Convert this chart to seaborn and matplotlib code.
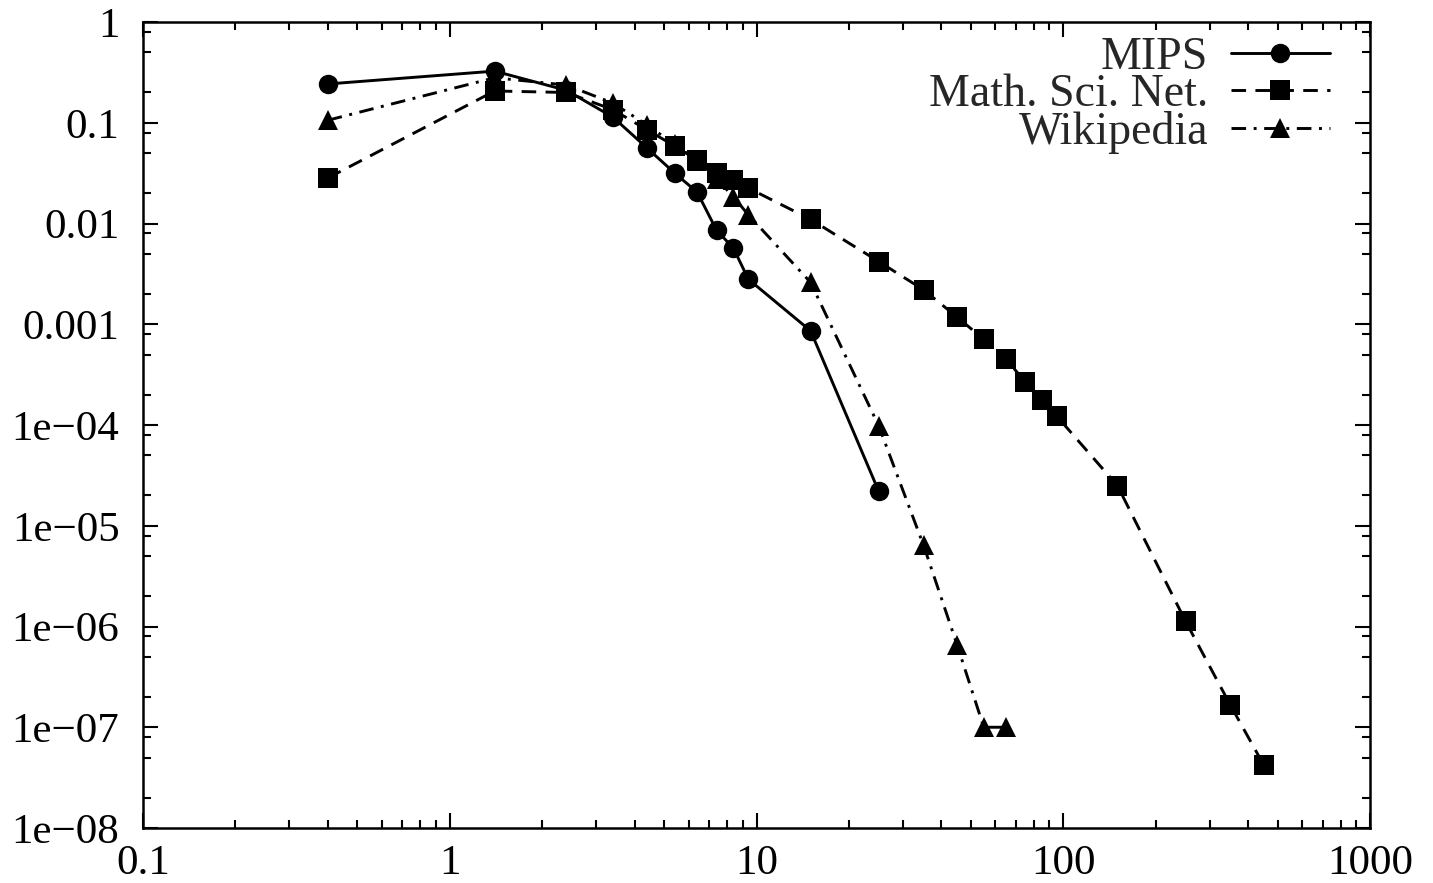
import numpy as np
import pandas as pd
import matplotlib
matplotlib.use("Agg")
import matplotlib.pyplot as plt
import matplotlib.ticker as mticker
import seaborn as sns

# data
mips_x = [0.4, 1.4, 2.4, 3.4, 4.4, 5.4, 6.4, 7.4, 8.4, 9.4, 15, 25]
mips_y = [0.243, 0.326, 0.21, 0.114, 0.056, 0.0318, 0.0205, 0.0086, 0.0057, 0.0028,
          0.00086, 2.2e-5]

msn_x = [0.4, 1.4, 2.4, 3.4, 4.4, 5.4, 6.4, 7.4, 8.4, 9.4, 15, 25, 35, 45, 55, 65,
         75, 85, 95, 150, 250, 350, 450]
msn_y = [0.0283, 0.207, 0.20, 0.135, 0.085, 0.059, 0.0427, 0.0317, 0.027, 0.0225,
         0.011, 0.0042, 0.0022, 0.00118, 0.00071, 0.00045, 0.00027, 0.000177,
         0.000123, 2.5e-5, 1.13e-6, 1.66e-7, 4.2e-8]

wiki_x = [0.4, 1.4, 2.4, 3.4, 4.4, 5.4, 6.4, 7.4, 8.4, 9.4, 15, 25, 35, 45, 55, 65]
wiki_y = [0.106, 0.28, 0.237, 0.157, 0.095, 0.061, 0.042, 0.028, 0.0184, 0.0122,
          0.0026, 9.8e-5, 6.4e-6, 6.6e-7, 1e-7, 1e-7]

x_ticks = [0.1, 1, 10, 100, 1000]
x_labels = ["0.1", "1", "10", "100", "1000"]
y_ticks = [1e-8, 1e-7, 1e-6, 1e-5, 1e-4, 1e-3, 1e-2, 1e-1, 1]
y_labels = ["1e\u221208", "1e\u221207", "1e\u221206", "1e\u221205", "1e\u221204",
            "0.001", "0.01", "0.1", "1"]

sns.set_theme(style="ticks")
plt.rcParams["font.family"] = ["Liberation Serif", "DejaVu Serif"]
plt.rcParams["font.size"] = 31

fig = plt.figure(figsize=(14.33, 8.83), dpi=100)
ax = fig.add_axes([0.0998, 0.0623, 0.8564, 0.9127])

series = [
    ("MIPS", mips_x, mips_y, "o", "-"),
    ("Math. Sci. Net.", msn_x, msn_y, "s", (0, (5, 3.2))),
    ("Wikipedia", wiki_x, wiki_y, "^", (0, (5, 2.6, 1, 2.6))),
]
for name, xs, ys, mk, ls in series:
    d = pd.DataFrame({"x": xs, "y": ys})
    sns.lineplot(data=d, x="x", y="y", ax=ax, color="black", marker=mk,
                 linestyle=ls, linewidth=2.1, markersize=14, markeredgewidth=0,
                 label=name, sort=False, estimator=None)

ax.set_xscale("log")
ax.set_yscale("log")
ax.set_xlim(0.1, 1000)
ax.set_ylim(1e-8, 1)
ax.set_xlabel("")
ax.set_ylabel("")

ax.xaxis.set_major_locator(mticker.FixedLocator(x_ticks))
ax.xaxis.set_major_formatter(mticker.FixedFormatter(x_labels))
ax.xaxis.set_minor_locator(mticker.LogLocator(base=10, subs=np.arange(2, 10), numticks=20))
ax.xaxis.set_minor_formatter(mticker.NullFormatter())
ax.yaxis.set_major_locator(mticker.FixedLocator(y_ticks))
ax.yaxis.set_major_formatter(mticker.FixedFormatter(y_labels))
ax.yaxis.set_minor_locator(mticker.LogLocator(base=10, subs=(2, 5, 8), numticks=20))
ax.yaxis.set_minor_formatter(mticker.NullFormatter())

ax.tick_params(which="both", direction="in", top=True, right=True, colors="black",
               width=1.5, labelsize=31)
ax.tick_params(which="major", length=11)
ax.tick_params(which="minor", length=6)
ax.tick_params(axis="y", which="major", pad=17)
ax.tick_params(axis="x", which="major", pad=12)
for s in ax.spines.values():
    s.set_visible(True)
    s.set_linewidth(1.8)
    s.set_color("black")

leg = ax.legend(loc="upper right", bbox_to_anchor=(0.967, 0.982), frameon=False,
                markerfirst=False, fontsize=33, handlelength=2.15, handletextpad=0.5,
                labelspacing=-0.12, borderaxespad=0, borderpad=0)
for t in leg.get_texts():
    t.set_ha("right")

fig.savefig("out.png", dpi=100)
